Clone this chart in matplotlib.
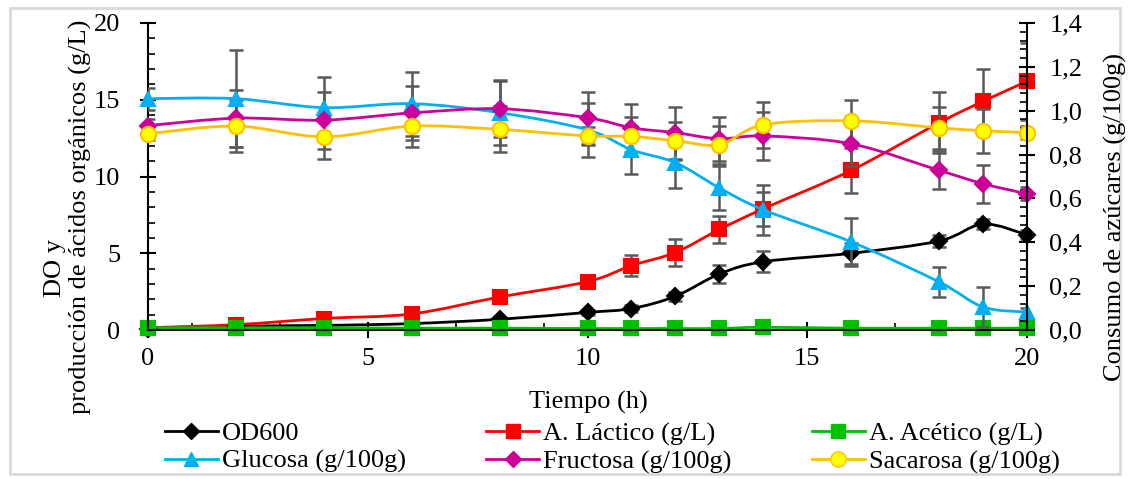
import matplotlib
matplotlib.use('Agg')
import matplotlib.pyplot as plt
from matplotlib.path import Path
from matplotlib.patches import PathPatch, Rectangle
from matplotlib.lines import Line2D
from matplotlib.ticker import MultipleLocator, FuncFormatter

plt.rcParams['font.family'] = ['Liberation Serif', 'DejaVu Serif']

# tiempo de muestreo (h)
tiempo = [0, 2, 4, 6, 8, 10, 11, 12, 13, 14, 16, 18, 19, 20]

# eje izquierdo (g/L)
od600 = [0.08, 0.25, 0.3, 0.42, 0.7, 1.15, 1.4, 2.2, 3.65, 4.45, 5.0, 5.8, 6.9, 6.2]
od600_err = [0.05, 0.05, 0.05, 0.05, 0.05, 0.15, 0.2, 0.3, 0.6, 0.7, 0.7, 0.4, 0.35, 0.3]
lactico = [0.15, 0.35, 0.75, 1.05, 2.15, 3.15, 4.2, 5.05, 6.55, 7.9, 10.4, 13.5, 14.9, 16.2]
lactico_err = [0.05, 0.1, 0.1, 0.1, 0.15, 0.3, 0.7, 0.85, 0.9, 1.1, 1.45, 2.0, 2.1, 2.5]
acetico = [0.15, 0.15, 0.15, 0.12, 0.12, 0.1, 0.1, 0.1, 0.1, 0.18, 0.12, 0.12, 0.12, 0.12]
acetico_err = [0.02] * 14

# eje derecho (g/100g)
glucosa = [1.055, 1.055, 1.014, 1.032, 0.991, 0.913, 0.822, 0.763, 0.648, 0.548, 0.402, 0.219, 0.105, 0.082]
glucosa_err = [0.05, 0.22, 0.14, 0.146, 0.146, 0.123, 0.11, 0.114, 0.1, 0.114, 0.11, 0.07, 0.09, 0.02]
fructosa = [0.932, 0.966, 0.957, 0.99, 1.009, 0.968, 0.922, 0.9, 0.872, 0.885, 0.849, 0.728, 0.667, 0.621]
fructosa_err = [0.03, 0.13, 0.13, 0.123, 0.13, 0.119, 0.11, 0.119, 0.1, 0.11, 0.1, 0.087, 0.087, 0.03]
sacarosa = [0.895, 0.93, 0.881, 0.93, 0.915, 0.885, 0.883, 0.863, 0.845, 0.936, 0.954, 0.922, 0.909, 0.9]
sacarosa_err = [0.03, 0.12, 0.1, 0.096, 0.105, 0.04, 0.09, 0.087, 0.087, 0.105, 0.096, 0.096, 0.1, 0.03]

ERR_COLOR = '#595959'
FS = 19


def smooth(ax, x, y, color, lw=2.0, z=2):
    # curva suavizada tipo Excel (Bezier por tramos)
    pts = list(zip(x, y))
    n = len(pts)
    verts = [pts[0]]
    codes = [Path.MOVETO]
    for i in range(n - 1):
        p0 = pts[max(i - 1, 0)]
        p1 = pts[i]
        p2 = pts[i + 1]
        p3 = pts[min(i + 2, n - 1)]
        c1 = (p1[0] + (p2[0] - p0[0]) / 6, p1[1] + (p2[1] - p0[1]) / 6)
        c2 = (p2[0] - (p3[0] - p1[0]) / 6, p2[1] - (p3[1] - p1[1]) / 6)
        verts += [c1, c2, p2]
        codes += [Path.CURVE4] * 3
    patch = PathPatch(Path(verts, codes), fill=False, edgecolor=color, lw=lw,
                      transform=ax.transData, zorder=z, capstyle='round')
    ax.add_patch(patch)


def serie(ax, y, err, color, marker, ms, mfc=None, mec=None, z=2):
    ax.errorbar(tiempo, y, yerr=err, fmt='none', ecolor=ERR_COLOR, elinewidth=1.8,
                capsize=5, capthick=1.8, zorder=z)
    smooth(ax, tiempo, y, color, z=z + 0.1)
    ax.plot(tiempo, y, linestyle='none', marker=marker, ms=ms,
            mfc=mfc or color, mec=mec or color, mew=1.5, zorder=z + 0.2, clip_on=False)


fig = plt.figure(figsize=(11.28, 4.79), dpi=100)
ax = fig.add_axes([0.1312, 0.311, 0.7793, 0.641])
ax2 = ax.twinx()

ax.set_xlim(0, 20)
ax.set_ylim(0, 20)
ax2.set_ylim(0, 1.4)

serie(ax, od600, od600_err, 'black', 'D', 8)
serie(ax, lactico, lactico_err, '#FF0000', 's', 9.5)
serie(ax, acetico, acetico_err, '#00C000', 's', 9.5)
serie(ax2, glucosa, glucosa_err, '#00B0F0', '^', 10)
serie(ax2, fructosa, fructosa_err, '#CC0099', 'D', 8)
serie(ax2, sacarosa, sacarosa_err, '#FFC000', 'o', 11, mfc='#FFFF00', mec='#FFC000')

for a in (ax, ax2):
    a.spines['top'].set_visible(False)
    for s in ('left', 'right', 'bottom'):
        a.spines[s].set_linewidth(1.5)
ax.spines['right'].set_visible(False)
ax2.spines['left'].set_visible(False)
ax2.spines['bottom'].set_visible(False)

ax.xaxis.set_major_locator(MultipleLocator(5))
ax.xaxis.set_minor_locator(MultipleLocator(1))
ax.yaxis.set_major_locator(MultipleLocator(5))
ax.yaxis.set_minor_locator(MultipleLocator(1))
ax2.yaxis.set_major_locator(MultipleLocator(0.2))
ax2.yaxis.set_minor_locator(MultipleLocator(0.04))
ax2.yaxis.set_major_formatter(FuncFormatter(lambda v, p: ('%.1f' % v).replace('.', ',')))

ax.tick_params(axis='both', which='major', direction='inout', length=12, width=1.5,
               labelsize=FS)
ax.tick_params(axis='x', which='major', pad=7)
ax.tick_params(axis='y', which='major', pad=14)
ax.tick_params(axis='both', which='minor', direction='in', length=5, width=1.2)
ax2.tick_params(axis='y', which='major', direction='inout', length=12, width=1.5,
                labelsize=FS, pad=10)
ax2.tick_params(axis='y', which='minor', direction='in', length=5, width=1.2)

# rótulos de ejes
fig.text(588 / 1128, 1 - 402 / 479, 'Tiempo (h)', fontsize=FS, ha='center', va='center')
fig.text(55 / 1128, 1 - 268 / 479, 'DO y', fontsize=FS, rotation=90,
         ha='center', va='center')
fig.text(80 / 1128, 1 - 217 / 479, 'producción de ácidos orgánicos (g/L)', fontsize=FS,
         rotation=90, ha='center', va='center')
fig.text(1115 / 1128, 1 - 217 / 479, 'Consumo de azúcares (g/100g)', fontsize=FS,
         rotation=90, ha='center', va='center')

handles = [
    Line2D([], [], color='black', lw=2, marker='D', ms=8),
    Line2D([], [], color='#00B0F0', lw=2, marker='^', ms=10),
    Line2D([], [], color='#FF0000', lw=2, marker='s', ms=9.5),
    Line2D([], [], color='#CC0099', lw=2, marker='D', ms=8),
    Line2D([], [], color='#00C000', lw=2, marker='s', ms=9.5),
    Line2D([], [], color='#FFC000', lw=2, marker='o', ms=11, mfc='#FFFF00', mec='#FFC000'),
]
labels = ['OD600', 'Glucosa (g/100g)', 'A. Láctico (g/L)', 'Fructosa (g/100g)',
          'A. Acético (g/L)', 'Sacarosa (g/100g)']
fig.legend(handles, labels, ncol=3, loc='upper left', bbox_to_anchor=(165 / 1128, 1 - 422 / 479),
           frameon=False, fontsize=FS, handlelength=2.0, handletextpad=0.15,
           columnspacing=3.05, labelspacing=0.15, borderpad=0, borderaxespad=0)

fig.patches.append(Rectangle((10 / 1128, 5 / 479), 1110 / 1128, 466 / 479,
                             transform=fig.transFigure, fill=False,
                             edgecolor='#D9D9D9', lw=2))

fig.savefig('out.png', dpi=100)
